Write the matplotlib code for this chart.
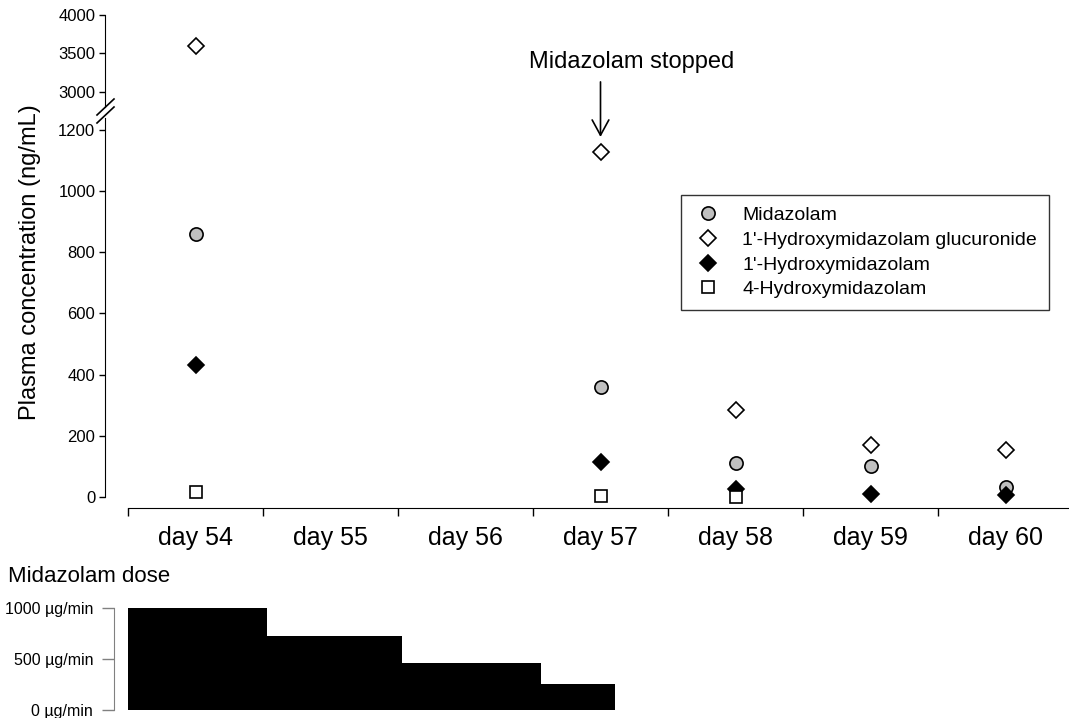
import numpy as np
import matplotlib
matplotlib.use('Agg')
from matplotlib import pyplot as plt
from matplotlib.lines import Line2D

plt.rcParams['font.family'] = ['Liberation Sans', 'DejaVu Sans']

# data
days = ['day 54', 'day 55', 'day 56', 'day 57', 'day 58', 'day 59', 'day 60']
midazolam = [860, np.nan, np.nan, 361, 111, 102, 33]
oh_glucuronide = [3600, np.nan, np.nan, 1128, 285, 170, 154]
oh_midazolam = [433, np.nan, np.nan, 115, 26, 10, 7]
oh4_midazolam = [16, np.nan, np.nan, 3, 0, np.nan, np.nan]

# infusion steps (in day units on the same x axis)
dose_edges = [-0.5, 0.53, 1.53, 2.56, 3.11]
dose_value = [1000, 725, 461, 255]

W, H = 1069, 718
fig = plt.figure(figsize=(W / 100, H / 100), dpi=100)


def box(x0, y0, x1, y1):
    # pixel box (top-left origin) -> figure fraction rect
    return [x0 / W, 1 - y1 / H, (x1 - x0) / W, (y1 - y0) / H]


x = np.arange(len(days))
xl = (-0.5 - 23 / 135, 6.5)

ax_lo = fig.add_axes(box(105, 118, 1073, 508))
ax_hi = fig.add_axes(box(105, 15, 1073, 107))

series = [
    (midazolam, dict(marker='o', ms=9.5, mfc='#c0c0c0', mec='black'), 'Midazolam'),
    (oh_glucuronide, dict(marker='D', ms=8, mfc='white', mec='black'), "1'-Hydroxymidazolam glucuronide"),
    (oh_midazolam, dict(marker='D', ms=8, mfc='black', mec='black'), "1'-Hydroxymidazolam"),
    (oh4_midazolam, dict(marker='s', ms=8.5, mfc='white', mec='black'), '4-Hydroxymidazolam'),
]
handles = []
for vals, st, lab in series:
    for a in (ax_lo, ax_hi):
        h, = a.plot(x, vals, linestyle='none', mew=1.2, label=lab, **st)
        if a is ax_lo:
            handles.append(h)

for a in (ax_lo, ax_hi):
    a.set_xlim(*xl)
    a.spines['top'].set_visible(False)
    a.spines['right'].set_visible(False)
    a.tick_params(axis='y', direction='out', length=4, width=1, labelsize=12, pad=3)

ax_lo.set_ylim(-36, 1239)
ax_lo.set_yticks([0, 200, 400, 600, 800, 1000, 1200])
ax_lo.spines['left'].set_bounds(0, 1239)
ax_lo.set_xticks(np.arange(-0.5, 7.0, 1.0))
ax_lo.set_xticklabels([])
ax_lo.set_xticks(x, minor=True)
ax_lo.set_xticklabels(days, minor=True, fontsize=18)
ax_lo.tick_params(axis='x', which='major', direction='out', length=6, width=1)
ax_lo.tick_params(axis='x', which='minor', length=0, pad=13)
ax_lo.spines['bottom'].set_bounds(-0.5, 6.5)

ax_hi.set_ylim(2805, 4000)
ax_hi.set_yticks([3000, 3500, 4000])
ax_hi.spines['bottom'].set_visible(False)
ax_hi.set_xticks([])
ax_hi.patch.set_alpha(0)

# axis break marks
for dy in (0, 8):
    fig.add_artist(Line2D([97 / W, 114 / W], [1 - (115 + dy) / H, 1 - (99 + dy) / H],
                          color='black', lw=1.2))

fig.text(30 / W, 1 - 262 / H, 'Plasma concentration (ng/mL)', rotation=90,
         fontsize=17, ha='center', va='center')

# arrow + label
ax_lo.annotate('', xy=(3, 1177), xytext=(3, 1357), annotation_clip=False,
               arrowprops=dict(arrowstyle='->,head_length=1.1,head_width=0.6', lw=1.2, color='black',
                               shrinkA=0, shrinkB=0))
fig.text(632 / W, 1 - 62 / H, 'Midazolam stopped', fontsize=17, ha='center', va='center')

leg = ax_lo.legend(handles=handles, loc='upper left', bbox_to_anchor=(681 / W, 1 - 195 / H),
                   bbox_transform=fig.transFigure, fontsize=14, frameon=True, fancybox=False,
                   borderpad=0.6, handlelength=1.6, handletextpad=0.95, labelspacing=0.36,
                   borderaxespad=0, numpoints=1)
leg.get_frame().set_edgecolor('black')
leg.get_frame().set_linewidth(1.0)

# dose panel
ax_d = fig.add_axes(box(114, 608, 1073, 710))
ax_d.bar(dose_edges[:-1], dose_value, width=np.diff(dose_edges), align='edge',
         color='black', edgecolor='none')
ax_d.set_xlim(-0.5 - 14 / 135, 6.5)
ax_d.set_ylim(0, 1000)
ax_d.set_yticks([0, 500, 1000])
ax_d.set_yticklabels(['0 \u00b5g/min', '500 \u00b5g/min', '1000 \u00b5g/min'])
ax_d.tick_params(axis='y', direction='out', length=9, width=1, color='#808080', labelsize=11.5, pad=6)
ax_d.set_xticks([])
for s in ('top', 'right', 'bottom'):
    ax_d.spines[s].set_visible(False)
ax_d.spines['left'].set_color('#808080')
ax_d.patch.set_alpha(0)
fig.text(8 / W, 1 - 577 / H, 'Midazolam dose', fontsize=16, ha='left', va='center')

fig.savefig('out.png', dpi=100)
